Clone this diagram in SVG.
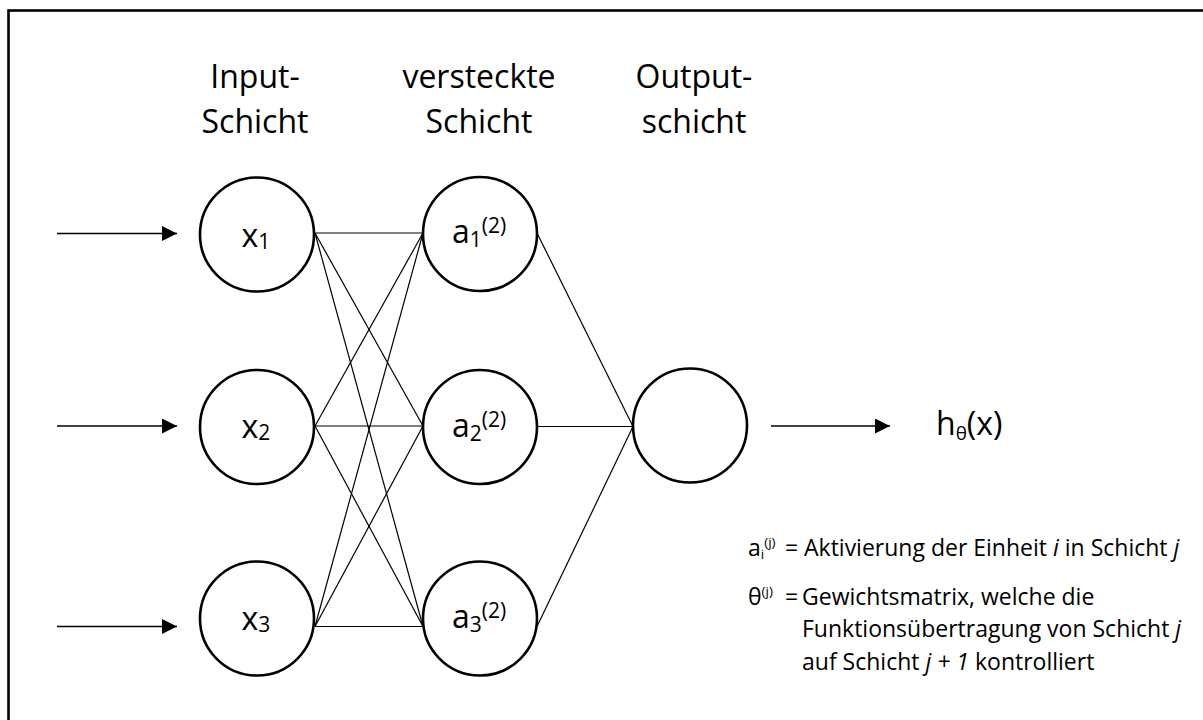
<svg xmlns="http://www.w3.org/2000/svg" width="1203" height="720" viewBox="0 0 1203 720">
  <defs>
    <marker id="arrowhead" markerUnits="userSpaceOnUse" markerWidth="15" markerHeight="15" refX="15" refY="7.5" orient="auto">
      <path d="M0,0 L15,7.5 L0,15 Z" fill="#000"/>
    </marker>
    <style>
      text { font-family: "Open Sans", "Liberation Sans", sans-serif; fill: #000; }
      .hdr { font-size: 32px; text-anchor: middle; }
      .lbl { font-size: 32px; text-anchor: middle; }
      .sm { font-size: 21px; }
      .leg { font-size: 23px; }
      .legsm { font-size: 13.5px; }
      .it { font-style: italic; }
      .node { fill: #fff; stroke: #000; stroke-width: 2.6; }
      .edge { stroke: #000; stroke-width: 1.2; fill: none; }
      .arrow { stroke: #000; stroke-width: 1.6; fill: none; marker-end: url(#arrowhead); }
    </style>
  </defs>

  <rect width="1203" height="720" fill="#fff"/>
  <!-- frame -->
  <rect x="8.5" y="10.5" width="1240" height="760" fill="none" stroke="#000" stroke-width="2.6"/>

  <!-- layer headings -->
  <g id="headings">
    <text class="hdr" x="255" y="88">Input-</text>
    <text class="hdr" x="255" y="133">Schicht</text>
    <text class="hdr" x="479" y="88">versteckte</text>
    <text class="hdr" x="479" y="133">Schicht</text>
    <text class="hdr" x="694" y="88">Output-</text>
    <text class="hdr" x="694" y="133">schicht</text>
  </g>

  <!-- connectors -->
  <g id="connectors">
    <line class="arrow" x1="57" y1="233.5" x2="177" y2="233.5"/>
    <line class="arrow" x1="57" y1="426" x2="177" y2="426"/>
    <line class="arrow" x1="57" y1="626.5" x2="177" y2="626.5"/>

    <line class="edge" x1="315" y1="233" x2="423" y2="233"/>
    <line class="edge" x1="315" y1="233" x2="423" y2="426"/>
    <line class="edge" x1="315" y1="233" x2="423" y2="626.5"/>
    <line class="edge" x1="315" y1="426" x2="423" y2="233"/>
    <line class="edge" x1="315" y1="426" x2="423" y2="426"/>
    <line class="edge" x1="315" y1="426" x2="423" y2="626.5"/>
    <line class="edge" x1="315" y1="626.5" x2="423" y2="233"/>
    <line class="edge" x1="315" y1="626.5" x2="423" y2="426"/>
    <line class="edge" x1="315" y1="626.5" x2="423" y2="626.5"/>

    <line class="edge" x1="537" y1="233" x2="633" y2="426.5"/>
    <line class="edge" x1="537" y1="426.5" x2="633" y2="426.5"/>
    <line class="edge" x1="537" y1="626.5" x2="633" y2="426.5"/>

    <line class="arrow" x1="771" y1="426" x2="890" y2="426"/>
  </g>

  <!-- input layer -->
  <g id="x1">
    <circle class="node" cx="257" cy="234.5" r="57"/>
    <text class="lbl" x="256" y="247">x<tspan class="sm" dy="2">1</tspan></text>
  </g>
  <g id="x2">
    <circle class="node" cx="257" cy="427" r="57"/>
    <text class="lbl" x="256" y="438">x<tspan class="sm" dy="2">2</tspan></text>
  </g>
  <g id="x3">
    <circle class="node" cx="257" cy="618.5" r="57"/>
    <text class="lbl" x="256" y="630">x<tspan class="sm" dy="2">3</tspan></text>
  </g>

  <!-- hidden layer -->
  <g id="a1">
    <circle class="node" cx="480" cy="234" r="57"/>
    <text class="lbl" x="479" y="243">a<tspan class="sm" dy="4">1</tspan><tspan class="sm" dy="-14">(2)</tspan></text>
  </g>
  <g id="a2">
    <circle class="node" cx="480" cy="427" r="57"/>
    <text class="lbl" x="479" y="436.5">a<tspan class="sm" dy="4">2</tspan><tspan class="sm" dy="-14">(2)</tspan></text>
  </g>
  <g id="a3">
    <circle class="node" cx="480" cy="618.5" r="57"/>
    <text class="lbl" x="479" y="628">a<tspan class="sm" dy="4">3</tspan><tspan class="sm" dy="-14">(2)</tspan></text>
  </g>

  <!-- output layer -->
  <g id="output">
    <circle class="node" cx="690" cy="425.5" r="57"/>
  </g>

  <g id="hypothesis">
    <text x="936" y="435" font-size="32">h<tspan font-size="19" dy="5">θ</tspan><tspan dy="-5">(x)</tspan></text>
  </g>

  <!-- legend -->
  <g id="legend">
    <text class="leg" x="748" y="556">a<tspan class="legsm" dy="3">i</tspan><tspan class="legsm" dy="-12">(j)</tspan></text>
    <text class="leg" x="785" y="556">=</text>
    <text class="leg" x="804" y="556">Aktivierung der Einheit <tspan class="it">i</tspan> in Schicht <tspan class="it">j</tspan></text>

    <text class="leg" x="748" y="605">θ<tspan class="legsm" dy="-9">(j)</tspan></text>
    <text class="leg" x="785" y="605">=</text>
    <text class="leg" x="802" y="605">Gewichtsmatrix, welche die</text>
    <text class="leg" x="802" y="637">Funktionsübertragung von Schicht <tspan class="it">j</tspan></text>
    <text class="leg" x="802" y="670">auf Schicht <tspan class="it">j + 1</tspan> kontrolliert</text>
  </g>
</svg>
